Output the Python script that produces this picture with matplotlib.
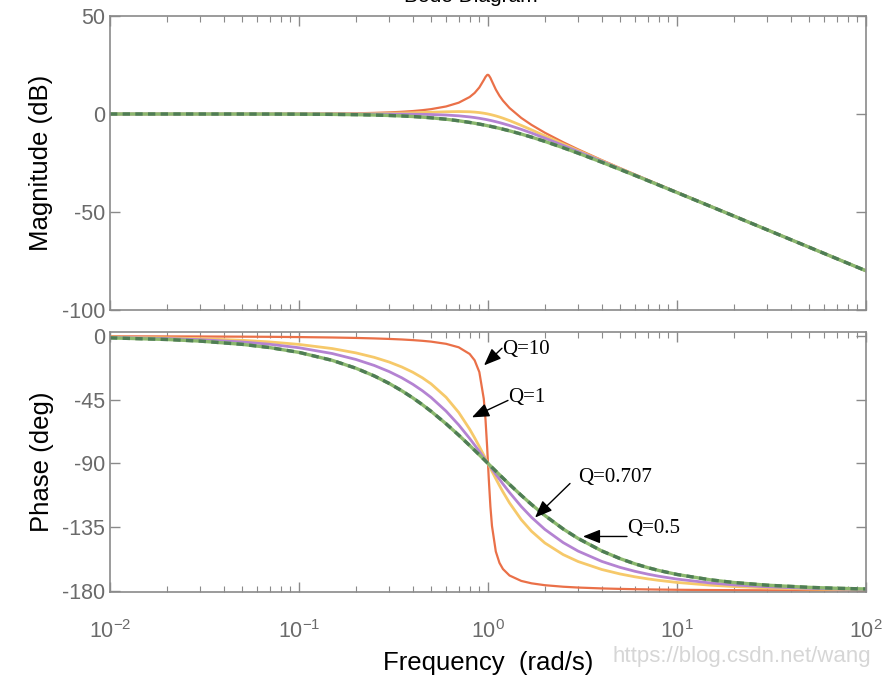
import matplotlib
matplotlib.use("Agg")
import matplotlib.pyplot as plt
from matplotlib.ticker import LogLocator, NullFormatter, FixedLocator

plt.rcParams['font.family'] = ['Liberation Sans', 'DejaVu Sans']
plt.rcParams['mathtext.default'] = 'regular'
plt.rcParams['axes.unicode_minus'] = False

# values (second-order low-pass, four Q values)
FREQ = [0.01, 0.02, 0.03, 0.05, 0.07, 0.1, 0.15, 0.2, 0.25, 0.3, 0.35, 0.4, 0.45,
        0.5, 0.6, 0.7, 0.8, 0.85, 0.9, 0.95, 0.97, 0.99, 1.0, 1.01, 1.03, 1.05,
        1.1, 1.15, 1.2, 1.3, 1.5, 1.7, 2, 2.5, 3, 4, 5, 6, 7, 8, 10, 15, 20, 30,
        50, 70, 100]

MAG_Q10 = [0.0, 0.0, 0.01, 0.02, 0.04, 0.09, 0.20, 0.35, 0.56, 0.81, 1.13, 1.50,
           1.95, 2.48, 3.84, 5.77, 8.67, 10.75, 13.55, 17.32, 18.89, 19.92, 20.0,
           19.75, 18.44, 16.67, 12.50, 9.31, 6.82, 3.07, -2.0, -5.56, -9.56,
           -14.41, -18.07, -23.53, -27.61, -30.88, -33.63, -35.99, -39.91, -47.01,
           -52.02, -59.08, -67.96, -73.80, -80.0]
PHASE_Q10 = [-0.06, -0.11, -0.17, -0.29, -0.40, -0.58, -0.88, -1.19, -1.53, -1.89,
             -2.28, -2.73, -3.23, -3.81, -5.36, -7.82, -12.53, -17.03, -25.35,
             -44.26, -58.65, -78.63, -90.0, -101.26, -120.59, -134.31, -152.35,
             -160.37, -164.74, -169.33, -173.16, -174.86, -176.19, -177.27,
             -177.85, -178.47, -178.81, -179.02, -179.16, -179.27, -179.42,
             -179.62, -179.71, -179.81, -179.89, -179.92, -179.94]

MAG_Q1 = [0.0, 0.0, 0.0, 0.01, 0.02, 0.04, 0.10, 0.17, 0.26, 0.37, 0.49, 0.63, 0.76,
          0.90, 1.14, 1.25, 1.14, 0.97, 0.73, 0.40, 0.25, 0.09, 0.0, -0.09, -0.27,
          -0.47, -0.98, -1.54, -2.13, -3.36, -5.81, -8.10, -11.14, -15.29, -18.63,
          -23.82, -27.79, -31.01, -33.72, -36.06, -39.96, -47.02, -52.03, -59.08,
          -67.96, -73.80, -80.0]
PHASE_Q1 = [-0.57, -1.15, -1.72, -2.87, -4.02, -5.77, -8.72, -11.77, -14.93, -18.25,
            -21.75, -25.46, -29.43, -33.69, -43.15, -53.93, -65.77, -71.92, -78.08,
            -84.14, -86.51, -88.85, -90.0, -91.14, -93.38, -95.58, -100.81,
            -105.67, -110.14, -117.95, -129.81, -138.03, -146.31, -154.54,
            -159.44, -165.07, -168.23, -170.27, -171.70, -172.76, -174.23,
            -176.17, -177.13, -178.09, -178.85, -179.18, -179.43]

MAG_Q0707 = [0.0, 0.0, 0.0, 0.0, 0.0, 0.0, 0.0, -0.01, -0.02, -0.04, -0.06, -0.11,
             -0.17, -0.26, -0.53, -0.93, -1.49, -1.82, -2.19, -2.59, -2.75, -2.92,
             -3.01, -3.10, -3.28, -3.46, -3.92, -4.39, -4.88, -5.86, -7.83, -9.71,
             -12.30, -16.03, -19.14, -24.10, -27.97, -31.13, -33.81, -36.12, -40.0,
             -47.04, -52.04, -59.08, -67.96, -73.80, -80.0]
PHASE_Q0707 = [-0.81, -1.62, -2.43, -4.05, -5.68, -8.13, -12.24, -16.42, -20.66,
               -25.00, -29.42, -33.96, -38.59, -43.31, -52.98, -62.75, -72.35,
               -77.00, -81.51, -85.85, -87.53, -89.19, -90.0, -90.81, -92.39,
               -93.95, -97.69, -101.22, -104.54, -110.57, -120.51, -128.17,
               -136.69, -146.04, -152.06, -159.34, -163.58, -166.37, -168.35,
               -169.82, -171.87, -174.59, -175.95, -177.30, -178.38, -178.84,
               -179.19]

MAG_Q05 = [0.0, 0.0, -0.01, -0.02, -0.04, -0.09, -0.19, -0.34, -0.53, -0.75, -1.00,
           -1.29, -1.60, -1.94, -2.67, -3.46, -4.30, -4.72, -5.15, -5.59, -5.76,
           -5.93, -6.02, -6.11, -6.28, -6.46, -6.89, -7.32, -7.75, -8.60, -10.24,
           -11.80, -13.98, -17.21, -20.0, -24.61, -28.30, -31.36, -33.98, -36.26,
           -40.09, -47.08, -52.06, -59.09, -67.96, -73.81, -80.0]
PHASE_Q05 = [-1.15, -2.29, -3.44, -5.72, -8.01, -11.42, -17.06, -22.62, -28.07,
             -33.40, -38.58, -43.60, -48.46, -53.13, -61.93, -69.98, -77.32,
             -80.72, -83.97, -87.06, -88.26, -89.43, -90.0, -90.57, -91.70,
             -92.79, -95.45, -97.98, -100.39, -104.86, -112.62, -119.07, -126.87,
             -136.40, -143.13, -151.93, -157.38, -161.08, -163.74, -165.75,
             -168.58, -172.37, -174.28, -176.18, -177.71, -178.36, -178.85]

MAG_TICKS = [-100, -50, 0, 50]
PHASE_TICKS = [-180, -135, -90, -45, 0]

# (label, text pos, arrow tail, arrow tip) in (rad/s, deg)
NOTES = [
    ("Q=10", (1.19, -9.2), (1.186, -8.5), (0.953, -20.6)),
    ("Q=1", (1.276, -43.2), (1.276, -45.4), (0.822, -57.4)),
    ("Q=0.707", (2.99, -99.9), (2.716, -104.2), (1.774, -128.3)),
    ("Q=0.5", (5.44, -136.1), (5.44, -141.7), (3.18, -141.7)),
]

C_Q10 = "#EA7048"
C_Q1 = "#F6C96A"
C_Q0707 = "#B483D2"
C_Q05 = "#8BB86E"
C_Q05_DASH = "#4F7D55"
AX_GRAY = "#8A8A8A"
TXT_GRAY = "#6A6A6A"

fig = plt.figure(figsize=(8.87, 6.84), dpi=100)
ax1 = fig.add_axes([0.1240, 0.5468, 0.8523, 0.4298])
ax2 = fig.add_axes([0.1240, 0.1345, 0.8523, 0.3801])


def style(ax):
    ax.set_xscale("log")
    ax.set_xlim(0.01, 100)
    ax.xaxis.set_major_locator(LogLocator(base=10, numticks=10))
    ax.xaxis.set_minor_locator(LogLocator(base=10, subs=range(2, 10), numticks=20))
    ax.xaxis.set_minor_formatter(NullFormatter())
    for sp in ax.spines.values():
        sp.set_color(AX_GRAY)
        sp.set_linewidth(1.2)
    ax.tick_params(which="both", direction="in", top=True, right=True,
                   color=AX_GRAY, labelcolor=TXT_GRAY, labelsize=15.5)
    ax.tick_params(which="major", length=7, width=1)
    ax.tick_params(which="minor", length=4, width=0.8)


for ax in (ax1, ax2):
    style(ax)

ax1.plot(FREQ, MAG_Q10, color=C_Q10, lw=1.6)
ax1.plot(FREQ, MAG_Q1, color=C_Q1, lw=2)
ax1.plot(FREQ, MAG_Q0707, color=C_Q0707, lw=2)
ax1.plot(FREQ, MAG_Q05, color=C_Q05, lw=2.4)
ax1.plot(FREQ, MAG_Q05, color=C_Q05_DASH, lw=2.4, dashes=(2.2, 1.6))

ax2.plot(FREQ, PHASE_Q10, color=C_Q10, lw=1.6)
ax2.plot(FREQ, PHASE_Q1, color=C_Q1, lw=2)
ax2.plot(FREQ, PHASE_Q0707, color=C_Q0707, lw=2)
ax2.plot(FREQ, PHASE_Q05, color=C_Q05, lw=2.4)
ax2.plot(FREQ, PHASE_Q05, color=C_Q05_DASH, lw=2.4, dashes=(2.2, 1.6))

ax1.set_ylim(-100, 50)
ax1.yaxis.set_major_locator(FixedLocator(MAG_TICKS))
ax1.tick_params(axis="x", labelbottom=False)
ax1.set_ylabel("Magnitude (dB)", fontsize=18.5, labelpad=6)

ax2.set_ylim(-181, 3)
ax2.yaxis.set_major_locator(FixedLocator(PHASE_TICKS))
ax2.tick_params(axis="x", pad=20)
ax2.set_ylabel("Phase (deg)", fontsize=18.5, labelpad=6)
ax2.set_xlabel("Frequency  (rad/s)", fontsize=18.5, labelpad=6)

for label, txt, tail, tip in NOTES:
    ax2.annotate("", xy=tip, xytext=tail,
                 arrowprops=dict(arrowstyle="-|>,head_length=0.7,head_width=0.28",
                                 color="black", lw=1, shrinkA=0, shrinkB=0,
                                 mutation_scale=15))
    ax2.text(txt[0], txt[1], label, family="Liberation Serif", fontsize=15,
             ha="left", va="center", color="black")

# title mostly cut off by the top edge, as in the screenshot
fig.text(0.531, 1 - 1.5 / 684, "Bode Diagram", fontsize=15, ha="center",
         va="baseline", color="black")
fig.text(0.69, 0.040, "https://blog.csdn.net/wang", fontsize=16, color="#D6D6D6",
         ha="left", va="center")

fig.savefig("out.png", dpi=100)
